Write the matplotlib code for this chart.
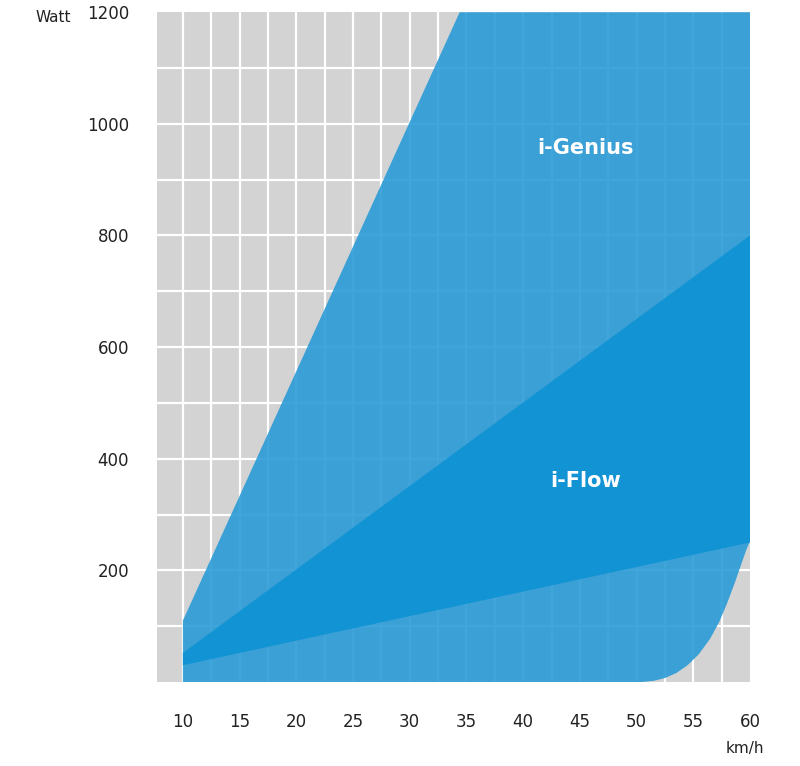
import numpy as np
import matplotlib
matplotlib.use("Agg")
import matplotlib.pyplot as plt

x_ticks = [10, 15, 20, 25, 30, 35, 40, 45, 50, 55, 60]
y_ticks = [200, 400, 600, 800, 1000, 1200]
# upper boundary of i-Genius (line)
genius_top_x = [10, 34.4, 60]
genius_top_y = [110, 1200, 1200]
# i-Flow band lines
flow_top_x = [10, 60]
flow_top_y = [52, 800]
flow_bot_x = [10, 60]
flow_bot_y = [30, 250]
# bottom curve of i-Genius
bottom_x = [10, 50.5, 51.5, 52.5, 53.5, 54.5, 55.5, 56.5, 57.3, 58.0, 58.7, 59.3, 59.7, 60]
bottom_y = [0, 0, 2, 7, 16, 30, 50, 78, 108, 142, 180, 215, 238, 252]

fig = plt.figure(figsize=(8, 7.66), dpi=100)
ax = fig.add_axes([0.196, 0.1097, 0.7415, 0.8743])
ax.set_xlim(7.7, 60)
ax.set_ylim(0, 1200)
ax.add_patch(plt.Rectangle((7.7, 0), 52.3, 1200, color="#d3d3d3", zorder=0))
for gx in np.arange(10, 60, 2.5):
    ax.axvline(gx, color="white", lw=1.6, zorder=1)
for gy in np.arange(100, 1200, 100):
    ax.axhline(gy, color="white", lw=1.6, zorder=1)

poly_x = genius_top_x + bottom_x[::-1]
poly_y = genius_top_y + bottom_y[::-1]
ax.fill(poly_x, poly_y, color="#2a9bd6", alpha=0.9, lw=0, zorder=2)
ax.fill(flow_top_x + flow_bot_x[::-1], flow_top_y + flow_bot_y[::-1],
        color="#1193d4", lw=0, zorder=3)

ax.text(45.5, 957, "i-Genius", color="white", fontsize=15, fontweight="semibold",
        ha="center", va="center", zorder=4)
ax.text(45.5, 360, "i-Flow", color="white", fontsize=15, fontweight="semibold",
        ha="center", va="center", zorder=4)

for s in ax.spines.values():
    s.set_visible(False)
ax.set_xticks(x_ticks)
ax.set_yticks(y_ticks)
ax.tick_params(length=0, labelsize=12, colors="#222222")
ax.tick_params(axis="x", pad=22)
ax.tick_params(axis="y", pad=20)
fig.text(35 / 800, 1 - 18 / 766, "Watt", fontsize=11, ha="left", va="center", color="#222222")
fig.text(745 / 800, 1 - 748 / 766, "km/h", fontsize=11, ha="center", va="center", color="#222222")
fig.savefig("out.png", dpi=100, facecolor="white")
